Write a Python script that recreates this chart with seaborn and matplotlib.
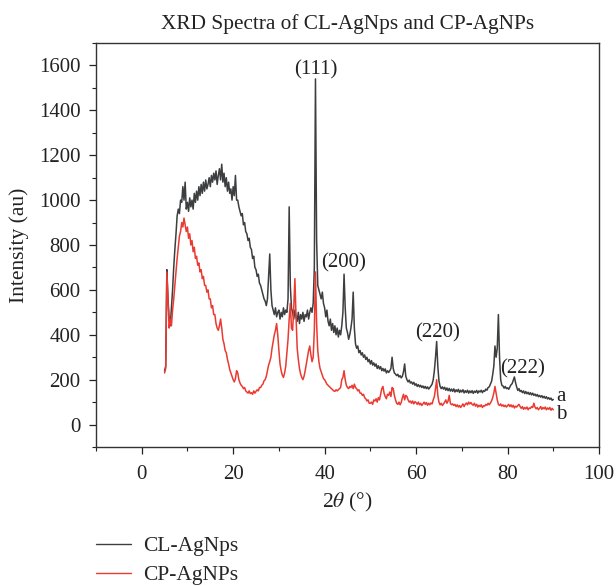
import numpy as np
import pandas as pd
import matplotlib
matplotlib.use("Agg")
import matplotlib.pyplot as plt
import seaborn as sns
from matplotlib.ticker import MultipleLocator
from matplotlib.lines import Line2D

# 2-theta grid (degrees), 0.25 deg steps from 5 to 90
two_theta = np.arange(5.0, 90.001, 0.25)

# CL-AgNps intensity (au), one row per degree (x.00, x.25, x.50, x.75)
cl_agnps = [
    240, 260, 690, 560,      # 5
    470, 440, 520, 600,      # 6
    700, 780, 850, 930,      # 7
    960, 940, 1000, 990,     # 8
    1060, 1000, 1080, 960,   # 9
    990, 950, 1010, 970,     # 10
    1000, 960, 1030, 990,    # 11
    1040, 1000, 1060, 1020,  # 12
    1070, 1030, 1080, 1040,  # 13
    1090, 1050, 1070, 1100,  # 14
    1060, 1110, 1080, 1120,  # 15
    1090, 1130, 1070, 1110,  # 16
    1140, 1090, 1160, 1080,  # 17
    1120, 1060, 1100, 1040,  # 18
    1080, 1030, 1050, 1000,  # 19
    1060, 1020, 1110, 1000,  # 20
    1000, 970, 950, 930,     # 21
    940, 890, 900, 860,      # 22
    850, 820, 830, 790,      # 23
    780, 740, 750, 700,      # 24
    690, 660, 670, 630,      # 25
    620, 600, 580, 560,      # 26
    550, 530, 560, 660,      # 27
    760, 600, 530, 510,      # 28
    490, 520, 480, 500,      # 29
    510, 470, 500, 480,      # 30
    520, 490, 510, 500,      # 31
    560, 970, 620, 520,      # 32
    500, 470, 510, 480,      # 33
    460, 500, 450, 490,      # 34
    470, 500, 460, 490,      # 35
    480, 510, 470, 500,      # 36
    520, 500, 540, 700,      # 37
    1540, 820, 620, 600,     # 38
    580, 560, 590, 540,      # 39
    520, 480, 510, 460,      # 40
    440, 470, 420, 450,      # 41
    410, 440, 400, 430,      # 42
    390, 420, 400, 440,      # 43
    500, 670, 520, 430,      # 44
    410, 380, 400, 430,      # 45
    470, 590, 430, 360,      # 46
    340, 350, 320, 330,      # 47
    310, 320, 300, 310,      # 48
    290, 300, 280, 290,      # 49
    270, 285, 265, 275,      # 50
    260, 270, 250, 262,      # 51
    248, 258, 240, 250,      # 52
    238, 248, 230, 240,      # 53
    232, 240, 250, 300,      # 54
    250, 230, 225, 218,      # 55
    224, 212, 218, 208,      # 56
    215, 235, 270, 215,      # 57
    200, 190, 198, 185,      # 58
    190, 180, 188, 175,      # 59
    182, 170, 178, 168,      # 60
    175, 165, 172, 162,      # 61
    170, 160, 168, 158,      # 62
    165, 172, 180, 200,      # 63
    240, 300, 370, 260,      # 64
    195, 170, 160, 168,      # 65
    158, 166, 153, 163,      # 66
    151, 161, 149, 158,      # 67
    148, 159, 145, 155,      # 68
    147, 157, 143, 153,      # 69
    145, 155, 141, 151,      # 70
    143, 153, 140, 150,      # 71
    142, 151, 139, 149,      # 72
    143, 152, 140, 150,      # 73
    145, 153, 142, 151,      # 74
    148, 158, 153, 165,      # 75
    168, 180, 192, 222,      # 76
    260, 350, 300, 340,      # 77
    490, 300, 200, 175,      # 78
    172, 162, 170, 160,      # 79
    164, 157, 167, 177,      # 80
    182, 197, 212, 187,      # 81
    167, 152, 160, 147,      # 82
    152, 142, 150, 138,      # 83
    147, 137, 144, 134,      # 84
    142, 132, 140, 130,      # 85
    136, 127, 134, 124,      # 86
    130, 122, 129, 119,      # 87
    126, 117, 124, 114,      # 88
    120, 112, 118, 108,      # 89
    112,                     # 90
]

# CP-AgNPs intensity (au)
cp_agnps = [
    230, 250, 680, 560,      # 5
    430, 470, 440, 510,      # 6
    560, 620, 680, 740,      # 7
    790, 840, 860, 900,      # 8
    880, 920, 890, 860,      # 9
    880, 830, 850, 800,      # 10
    820, 770, 790, 740,      # 11
    750, 710, 720, 680,      # 12
    690, 650, 660, 620,      # 13
    620, 590, 600, 560,      # 14
    560, 520, 530, 490,      # 15
    490, 450, 430, 420,      # 16
    440, 470, 430, 380,      # 17
    360, 330, 320, 290,      # 18
    270, 245, 230, 215,      # 19
    200, 190, 205, 240,      # 20
    230, 200, 185, 175,      # 21
    170, 160, 165, 150,      # 22
    145, 140, 150, 138,      # 23
    142, 135, 150, 140,      # 24
    148, 155, 150, 165,      # 25
    165, 175, 180, 195,      # 26
    200, 215, 240, 265,      # 27
    280, 300, 340, 370,      # 28
    400, 420, 450, 400,      # 29
    330, 270, 240, 220,      # 30
    210, 230, 260, 320,      # 31
    380, 470, 540, 430,      # 32
    420, 520, 650, 480,      # 33
    340, 290, 250, 225,      # 34
    210, 200, 215, 240,      # 35
    270, 300, 330, 350,      # 36
    310, 280, 300, 420,      # 37
    680, 450, 330, 280,      # 38
    250, 235, 220, 205,      # 39
    200, 190, 180, 175,      # 40
    170, 165, 160, 155,      # 41
    150, 148, 155, 150,      # 42
    155, 160, 165, 200,      # 43
    210, 240, 200, 175,      # 44
    165, 160, 170, 165,      # 45
    175, 160, 180, 165,      # 46
    160, 150, 155, 140,      # 47
    140, 130, 135, 120,      # 48
    115, 105, 110, 95,       # 49
    95, 100, 90, 110,        # 50
    105, 115, 100, 120,      # 51
    110, 135, 160, 170,      # 52
    140, 125, 115, 135,      # 53
    130, 145, 125, 165,      # 54
    160, 130, 110, 95,       # 55
    90, 100, 88, 98,         # 56
    120, 135, 110, 130,      # 57
    125, 110, 100, 105,      # 58
    95, 105, 92, 102,        # 59
    98, 90, 100, 88,         # 60
    95, 85, 92, 100,         # 61
    90, 98, 86, 95,          # 62
    88, 96, 92, 110,         # 63
    125, 160, 200, 130,      # 64
    100, 88, 95, 85,         # 65
    92, 100, 110, 95,        # 66
    105, 130, 95, 88,        # 67
    92, 85, 90, 80,          # 68
    88, 78, 85, 76,          # 69
    84, 92, 80, 90,          # 70
    96, 88, 100, 92,         # 71
    98, 90, 86, 95,          # 72
    82, 90, 78, 86,          # 73
    80, 88, 76, 84,          # 74
    82, 90, 86, 95,          # 75
    88, 96, 105, 120,        # 76
    140, 170, 140, 110,      # 77
    90, 85, 92, 82,          # 78
    88, 80, 86, 78,          # 79
    84, 90, 80, 88,          # 80
    78, 86, 74, 82,          # 81
    78, 85, 90, 80,          # 82
    72, 80, 68, 76,          # 83
    70, 78, 66, 74,          # 84
    72, 80, 76, 95,          # 85
    78, 70, 76, 66,          # 86
    72, 80, 68, 76,          # 87
    70, 78, 66, 74,          # 88
    68, 76, 64, 72,          # 89
    66,                      # 90
]

series_names = ["CL-AgNps", "CP-AgNPs"]
series_colors = ["#3c3e3f", "#ea3a31"]

# peak annotations (label, 2theta, intensity)
peak_labels = ["(111)", "(200)", "(220)", "(222)"]
peak_x = [38.0, 44.2, 64.7, 83.3]
peak_y = [1580, 720, 408, 250]

x_ticks = [0, 20, 40, 60, 80, 100]
y_ticks = [0, 200, 400, 600, 800, 1000, 1200, 1400, 1600]

df = pd.concat([
    pd.DataFrame({"two_theta": two_theta, "intensity": cl_agnps, "sample": series_names[0]}),
    pd.DataFrame({"two_theta": two_theta, "intensity": cp_agnps, "sample": series_names[1]}),
], ignore_index=True)

sns.set_style("ticks")
plt.rcParams["font.family"] = ["Liberation Serif", "DejaVu Serif"]
plt.rcParams["mathtext.fontset"] = "stix"

fig = plt.figure(figsize=(6.16, 5.86), dpi=100)
ax = fig.add_axes([0.1558, 0.2372, 0.8166, 0.6894])

sns.lineplot(data=df, x="two_theta", y="intensity", hue="sample",
             palette=dict(zip(series_names, series_colors)),
             estimator=None, sort=False, linewidth=1.1, legend=False, ax=ax)

ax.set_xlim(-10, 100)
ax.set_ylim(-100, 1700)
ax.set_xticks(x_ticks)
ax.set_yticks(y_ticks)
ax.xaxis.set_minor_locator(MultipleLocator(10))
ax.yaxis.set_minor_locator(MultipleLocator(100))
ax.tick_params(axis="both", which="major", direction="out", length=5, width=0.9,
               labelsize=15, colors="#222222")
ax.tick_params(axis="x", which="major", pad=8)
ax.tick_params(axis="y", which="major", pad=6)
ax.tick_params(axis="both", which="minor", direction="out", length=3, width=0.8, colors="#222222")
for s in ax.spines.values():
    s.set_linewidth(1.0)
    s.set_color("#333333")

ax.set_xlabel(r"2$\theta$ (°)", fontsize=15.5, labelpad=5, color="#222222")
ax.set_ylabel("Intensity (au)", fontsize=15.5, labelpad=7, color="#222222")
ax.set_title("XRD Spectra of CL-AgNps and CP-AgNPs", fontsize=15.3, pad=10, color="#222222")

for lbl, px, py in zip(peak_labels, peak_x, peak_y):
    ax.text(px, py, lbl, fontsize=15, ha="center", va="center", color="#222222")

ax.text(90.6, 125, "a", fontsize=15, ha="left", va="center", color="#222222")
ax.text(90.6, 45, "b", fontsize=15, ha="left", va="center", color="#222222")

handles = [Line2D([0], [0], color=c, lw=1.0) for c in series_colors]
fig.legend(handles, series_names, loc="upper left", bbox_to_anchor=(0.142, 0.1),
           frameon=False, fontsize=15.5, handlelength=1.63, handletextpad=0.56,
           labelspacing=0.42, borderaxespad=0)

fig.savefig("out.png", dpi=100)
